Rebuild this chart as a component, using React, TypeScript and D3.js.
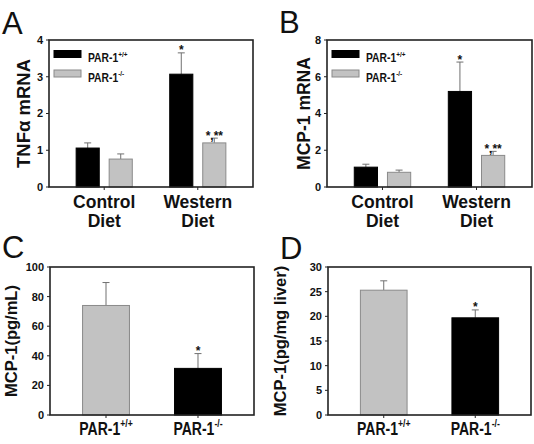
import React from "react";
import * as d3 from "d3";

// ---------- data ----------
const dietGroups = ["Control Diet", "Western Diet"];
const dietLabelLines = [["Control", "Diet"], ["Western", "Diet"]];
const genotypes = ["PAR-1+/+", "PAR-1-/-"];
const genotypeBase = "PAR-1";
const genotypeSup = ["+/+", "-/-"];

// Panel A: TNFα mRNA
const tnfWT = [1.06, 3.07];
const tnfWTErr = [0.14, 0.58];
const tnfKO = [0.76, 1.2];
const tnfKOErr = [0.14, 0.13];
const tnfStarsWT = ["", "*"];
const tnfStarsKO = ["", "*,**"];
const tnfTicks = [0, 1, 2, 3, 4];

// Panel B: MCP-1 mRNA
const mcpWT = [1.08, 5.2];
const mcpWTErr = [0.16, 1.6];
const mcpKO = [0.8, 1.72];
const mcpKOErr = [0.12, 0.22];
const mcpStarsWT = ["", "*"];
const mcpStarsKO = ["", "*,**"];
const mcpTicks = [0, 2, 4, 6, 8];

// Panel C: plasma MCP-1 (pg/mL)
const plasmaValues = [74, 31.5];
const plasmaErr = [15.5, 10];
const plasmaStars = ["", "*"];
const plasmaTicks = [0, 20, 40, 60, 80, 100];

// Panel D: liver MCP-1 (pg/mg liver)
const liverValues = [25.3, 19.7];
const liverErr = [1.9, 1.6];
const liverStars = ["", "*"];
const liverTicks = [0, 5, 10, 15, 20, 25, 30];

const FONT = "'Liberation Sans', Arial, Helvetica, sans-serif";
const BLACK = "#000000";
const GRAY = "#c2c2c2";
const GRAY_STROKE = "#8a8a8a";
const ERR = "#707070";
const FRAME = "#222222";
const TEXT = "#111111";

type Frame = { x0: number; y0: number; x1: number; y1: number };

function YAxis({ frame, y, ticks }: { frame: Frame; y: d3.ScaleLinear<number, number>; ticks: number[] }) {
  return (
    <g>
      {ticks.map((t) => (
        <g key={t}>
          <line x1={frame.x0 - 3} x2={frame.x0} y1={y(t)} y2={y(t)} stroke={FRAME} strokeWidth={1} />
          <text
            x={frame.x0 - 6}
            y={y(t)}
            dy="0.36em"
            textAnchor="end"
            fontSize={11}
            fontWeight="bold"
            fill={TEXT}
            fontFamily={FONT}
          >
            {t}
          </text>
        </g>
      ))}
    </g>
  );
}

function FrameBox({ frame }: { frame: Frame }) {
  return (
    <rect
      x={frame.x0}
      y={frame.y0}
      width={frame.x1 - frame.x0}
      height={frame.y1 - frame.y0}
      fill="none"
      stroke={FRAME}
      strokeWidth={1.6}
    />
  );
}

function Bar({
  x,
  w,
  y,
  v,
  e,
  fill,
  star,
}: {
  x: number;
  w: number;
  y: d3.ScaleLinear<number, number>;
  v: number;
  e: number;
  fill: string;
  star: string;
}) {
  const cx = x + w / 2;
  const top = y(v);
  const et = y(v + e);
  const stroke = fill === BLACK ? BLACK : GRAY_STROKE;
  return (
    <g>
      <line x1={cx} x2={cx} y1={top} y2={et} stroke={ERR} strokeWidth={1} />
      <line x1={cx - 3.5} x2={cx + 3.5} y1={et} y2={et} stroke={ERR} strokeWidth={1} />
      <rect x={x} y={top} width={w} height={y(0) - top} fill={fill} stroke={stroke} strokeWidth={1} />
      {star ? (
        <text
          x={cx}
          y={et + 1.5}
          textAnchor="middle"
          fontSize={12}
          fontWeight="bold"
          fill={TEXT}
          fontFamily={FONT}
        >
          {star}
        </text>
      ) : null}
    </g>
  );
}

function YLabel({ x, y, text, size }: { x: number; y: number; text: React.ReactNode; size: number }) {
  return (
    <text
      transform={`translate(${x},${y}) rotate(-90)`}
      textAnchor="middle"
      fontSize={size}
      fontWeight="bold"
      fill={TEXT}
      fontFamily={FONT}
    >
      {text}
    </text>
  );
}

function Letter({ x, y, text }: { x: number; y: number; text: string }) {
  return (
    <text x={x} y={y} fontSize={31} fill={TEXT} fontFamily={FONT}>
      {text}
    </text>
  );
}

function GenotypeText({
  x,
  y,
  i,
  size,
  sx,
  sy,
  anchor,
}: {
  x: number;
  y: number;
  i: number;
  size: number;
  sx: number;
  sy: number;
  anchor: "start" | "middle";
}) {
  return (
    <g transform={`translate(${x},${y}) scale(${sx},${sy})`}>
      <text textAnchor={anchor} fontSize={size} fontWeight="bold" fill={TEXT} fontFamily={FONT}>
        <tspan>{genotypeBase}</tspan>
        <tspan fontSize={size * 0.62} dy={-size * 0.42}>
          {genotypeSup[i]}
        </tspan>
      </text>
    </g>
  );
}

function GroupedPanel({
  frame,
  max,
  ticks,
  wt,
  wtErr,
  ko,
  koErr,
  starsWT,
  starsKO,
  letter,
  letterX,
  letterY,
  ylabel,
  ylabelX,
  ylabelSize,
}: {
  frame: Frame;
  max: number;
  ticks: number[];
  wt: number[];
  wtErr: number[];
  ko: number[];
  koErr: number[];
  starsWT: string[];
  starsKO: string[];
  letter: string;
  letterX: number;
  letterY: number;
  ylabel: React.ReactNode;
  ylabelX: number;
  ylabelSize: number;
}) {
  const y = d3.scaleLinear().domain([0, max]).range([frame.y1, frame.y0]);
  const outer = d3
    .scaleBand<string>()
    .domain(dietGroups)
    .range([frame.x0, frame.x1])
    .paddingInner(0.4)
    .paddingOuter(0.29);
  const inner = d3.scaleBand<string>().domain(genotypes).range([0, outer.bandwidth()]).paddingInner(0.3);
  const legendX = frame.x0 + 5;
  return (
    <g>
      <Letter x={letterX} y={letterY} text={letter} />
      <YLabel x={ylabelX} y={(frame.y0 + frame.y1) / 2} text={ylabel} size={ylabelSize} />
      <YAxis frame={frame} y={y} ticks={ticks} />
      {dietGroups.map((g, gi) => {
        const gx = outer(g)!;
        const cx = gx + outer.bandwidth() / 2;
        return (
          <g key={g}>
            <Bar
              x={gx + inner(genotypes[0])!}
              w={inner.bandwidth()}
              y={y}
              v={wt[gi]}
              e={wtErr[gi]}
              fill={BLACK}
              star={starsWT[gi]}
            />
            <Bar
              x={gx + inner(genotypes[1])!}
              w={inner.bandwidth()}
              y={y}
              v={ko[gi]}
              e={koErr[gi]}
              fill={GRAY}
              star={starsKO[gi]}
            />
            <line x1={cx} x2={cx} y1={frame.y1} y2={frame.y1 + 3} stroke={FRAME} strokeWidth={1} />
            {dietLabelLines[gi].map((ln, li) => (
              <text
                key={li}
                x={cx}
                y={frame.y1 + 21 + li * 19}
                textAnchor="middle"
                fontSize={17.5}
                fontWeight="bold"
                fill={TEXT}
                fontFamily={FONT}
              >
                {ln}
              </text>
            ))}
          </g>
        );
      })}
      {genotypes.map((gname, i) => (
        <g key={gname}>
          <rect
            x={legendX}
            y={frame.y0 + 10.5 + i * 19.5}
            width={27}
            height={7}
            fill={i === 0 ? BLACK : GRAY}
            stroke={i === 0 ? BLACK : GRAY_STROKE}
            strokeWidth={1}
          />
          <GenotypeText x={legendX + 34} y={frame.y0 + 22 + i * 19.5} i={i} size={12} sx={0.86} sy={1.05} anchor="start" />
        </g>
      ))}
      <FrameBox frame={frame} />
    </g>
  );
}

function SinglePanel({
  frame,
  max,
  ticks,
  values,
  errs,
  stars,
  letter,
  letterX,
  letterY,
  ylabel,
  ylabelX,
}: {
  frame: Frame;
  max: number;
  ticks: number[];
  values: number[];
  errs: number[];
  stars: string[];
  letter: string;
  letterX: number;
  letterY: number;
  ylabel: string;
  ylabelX: number;
}) {
  const y = d3.scaleLinear().domain([0, max]).range([frame.y1, frame.y0]);
  const x = d3
    .scaleBand<string>()
    .domain(genotypes)
    .range([frame.x0, frame.x1])
    .paddingInner(0.49)
    .paddingOuter(0.354);
  const colors = [GRAY, BLACK];
  return (
    <g>
      <Letter x={letterX} y={letterY} text={letter} />
      <YLabel x={ylabelX} y={(frame.y0 + frame.y1) / 2} text={ylabel} size={16.5} />
      <YAxis frame={frame} y={y} ticks={ticks} />
      {genotypes.map((g, i) => {
        const bx = x(g)!;
        const cx = bx + x.bandwidth() / 2;
        return (
          <g key={g}>
            <Bar x={bx} w={x.bandwidth()} y={y} v={values[i]} e={errs[i]} fill={colors[i]} star={stars[i]} />
            <line x1={cx} x2={cx} y1={frame.y1} y2={frame.y1 + 3} stroke={FRAME} strokeWidth={1} />
            <GenotypeText x={cx} y={frame.y1 + 20} i={i} size={16.5} sx={0.85} sy={1.12} anchor="middle" />
          </g>
        );
      })}
      <FrameBox frame={frame} />
    </g>
  );
}

export default function App() {
  return (
    <svg
      width={534}
      height={444}
      viewBox="0 0 534 444"
      style={{ position: "absolute", left: 0, top: 0, background: "#ffffff" }}
    >
      <rect width={534} height={444} fill="#ffffff" />
      <GroupedPanel
        frame={{ x0: 49, y0: 40, x1: 253, y1: 187 }}
        max={4}
        ticks={tnfTicks}
        wt={tnfWT}
        wtErr={tnfWTErr}
        ko={tnfKO}
        koErr={tnfKOErr}
        starsWT={tnfStarsWT}
        starsKO={tnfStarsKO}
        letter="A"
        letterX={2}
        letterY={34}
        ylabel="TNFα mRNA"
        ylabelX={30}
        ylabelSize={18.5}
      />
      <GroupedPanel
        frame={{ x0: 327, y0: 40, x1: 532, y1: 187 }}
        max={8}
        ticks={mcpTicks}
        wt={mcpWT}
        wtErr={mcpWTErr}
        ko={mcpKO}
        koErr={mcpKOErr}
        starsWT={mcpStarsWT}
        starsKO={mcpStarsKO}
        letter="B"
        letterX={279}
        letterY={33}
        ylabel="MCP-1 mRNA"
        ylabelX={310}
        ylabelSize={17.5}
      />
      <SinglePanel
        frame={{ x0: 50, y0: 267, x1: 254, y1: 415 }}
        max={100}
        ticks={plasmaTicks}
        values={plasmaValues}
        errs={plasmaErr}
        stars={plasmaStars}
        letter="C"
        letterX={2}
        letterY={258}
        ylabel="MCP-1(pg/mL)"
        ylabelX={17}
      />
      <SinglePanel
        frame={{ x0: 328, y0: 267, x1: 531, y1: 415 }}
        max={30}
        ticks={liverTicks}
        values={liverValues}
        errs={liverErr}
        stars={liverStars}
        letter="D"
        letterX={280}
        letterY={259}
        ylabel="MCP-1(pg/mg liver)"
        ylabelX={286}
      />
    </svg>
  );
}
